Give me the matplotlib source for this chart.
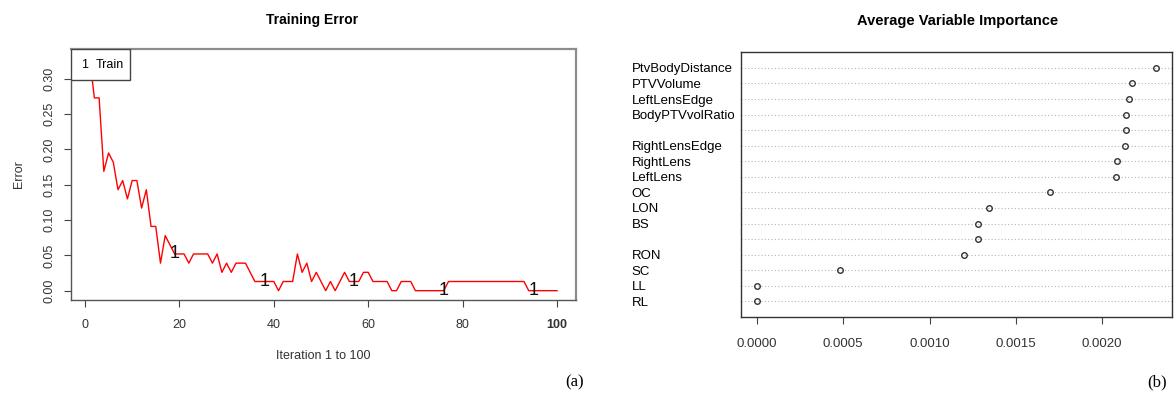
import numpy as np
import matplotlib
matplotlib.use('Agg')
import matplotlib.pyplot as plt
from matplotlib.patches import Rectangle

plt.rcParams['font.family'] = ['Liberation Sans', 'DejaVu Sans']

# training error per iteration
iterations = list(range(1, 101))
train_error = [0.330, 0.273, 0.273, 0.169, 0.195, 0.182, 0.143, 0.156, 0.130, 0.156,
               0.156, 0.117, 0.143, 0.091, 0.091, 0.039, 0.078, 0.065, 0.052, 0.052,
               0.052, 0.039, 0.052, 0.052, 0.052, 0.052, 0.039, 0.052, 0.026, 0.039,
               0.026, 0.039, 0.039, 0.039, 0.026, 0.013, 0.013, 0.013, 0.013, 0.013,
               0.000, 0.013, 0.013, 0.013, 0.052, 0.026, 0.039, 0.013, 0.026, 0.013,
               0.000, 0.013, 0.000, 0.013, 0.026, 0.013, 0.013, 0.013, 0.026, 0.026,
               0.013, 0.013, 0.013, 0.013, 0.000, 0.000, 0.013, 0.013, 0.013, 0.000,
               0.000, 0.000, 0.000, 0.000, 0.000, 0.000, 0.013, 0.013, 0.013, 0.013,
               0.013, 0.013, 0.013, 0.013, 0.013, 0.013, 0.013, 0.013, 0.013, 0.013,
               0.013, 0.013, 0.013, 0.000, 0.000, 0.000, 0.000, 0.000, 0.000, 0.000]
label_iters = [19, 38, 57, 76, 95]
err_ticks = [0.00, 0.05, 0.10, 0.15, 0.20, 0.25, 0.30]
iter_ticks = [0, 20, 40, 60, 80, 100]

# variable importance, top to bottom
var_names = ['PtvBodyDistance', 'PTVVolume', 'LeftLensEdge', 'BodyPTVvolRatio', '',
             'RightLensEdge', 'RightLens', 'LeftLens', 'OC', 'LON', 'BS', '',
             'RON', 'SC', 'LL', 'RL']
importance = [0.00231, 0.00217, 0.002153, 0.002138, 0.002138, 0.00213, 0.002085, 0.00208,
              0.00170, 0.001345, 0.00128, 0.00128, 0.00120, 0.00048, 0.0, 0.0]
imp_ticks = [0.0, 0.0005, 0.0010, 0.0015, 0.0020]

fig = plt.figure(figsize=(11.75, 3.95), dpi=100)

# ---- (a) training error
ax1 = fig.add_axes([0.0604, 0.2405, 0.4296, 0.6355])
ax1.plot(iterations, train_error, color='#ff0000', lw=1.0)
for it in label_iters:
    ax1.text(it, train_error[it - 1], '1', fontsize=13, ha='center', va='center', color='#111111')
ax1.set_xlim(-2.96, 103.96)
ax1.set_ylim(-0.0132, 0.3423)
ax1.set_xticks(iter_ticks)
ax1.set_xticklabels([str(t) for t in iter_ticks])
ax1.get_xticklabels()[-1].set_fontweight('bold')
ax1.set_yticks(err_ticks)
ax1.set_yticklabels(['%.2f' % t for t in err_ticks])
for lab in ax1.get_yticklabels():
    lab.set_rotation(90)
    lab.set_va('center')
ax1.tick_params(labelsize=9, length=5, width=0.8, color='#444444', labelcolor='#333333', pad=9)
ax1.tick_params(axis='y', pad=6)
for s in ['left', 'bottom']:
    ax1.spines[s].set_color('#555555')
    ax1.spines[s].set_linewidth(1.0)
for s in ['top', 'right']:
    ax1.spines[s].set_color('#8c8c8c')
    ax1.spines[s].set_linewidth(1.6)
ax1.set_xlabel('Iteration 1 to 100', fontsize=9, color='#333333')
ax1.xaxis.set_label_coords(0.5, -0.2)
ax1.set_ylabel('Error', fontsize=9, color='#333333')
ax1.yaxis.set_label_coords(-0.092, 0.5)
# legend box
ax1.add_patch(Rectangle((0, 0.8765), 0.117, 0.1235, transform=ax1.transAxes,
                        facecolor='white', edgecolor='#444444', lw=1.0, zorder=5))
ax1.text(0.02, 0.938, '1', transform=ax1.transAxes, fontsize=9, va='center', zorder=6)
ax1.text(0.0495, 0.938, 'Train', transform=ax1.transAxes, fontsize=9, va='center', zorder=6)
fig.text(0.2656, 0.949, 'Training Error', fontsize=10, fontweight='bold', ha='center', va='center')

# ---- (b) variable importance
ax2 = fig.add_axes([0.6306, 0.1975, 0.3666, 0.6701])
n = len(var_names)
rows = [n - i for i in range(n)]
ax2.plot(importance, rows, 'o', mfc='none', mec='#333333', ms=4, mew=1.0, zorder=3)
ax2.set_xlim(-0.0000924, 0.0024024)
ax2.set_ylim(0, n + 1)
ax2.set_yticks(rows)
ax2.set_yticklabels(var_names)
for lab in ax2.get_yticklabels():
    lab.set_ha('left')
ax2.tick_params(axis='y', length=0, pad=78.7, labelsize=9.5)
ax2.grid(axis='y', linestyle=(0, (1, 2)), color='#b5b5b5', lw=0.8)
ax2.set_xticks(imp_ticks)
ax2.set_xticklabels(['%.4f' % t for t in imp_ticks])
ax2.tick_params(axis='x', labelsize=9.5, length=5, width=0.8, color='#444444', labelcolor='#333333', pad=10)
for s in ax2.spines.values():
    s.set_color('#333333')
    s.set_linewidth(1.0)
fig.text(0.8149, 0.947, 'Average Variable Importance', fontsize=10.5, fontweight='bold',
         ha='center', va='center')

fig.text(575 / 1175, 1 - 382 / 395, '(a)', family='Liberation Serif', fontsize=12,
         ha='center', va='center')
fig.text(1157 / 1175, 1 - 382 / 395, '(b)', family='Liberation Serif', fontsize=12,
         ha='center', va='center')

fig.savefig('out.png', dpi=100)
